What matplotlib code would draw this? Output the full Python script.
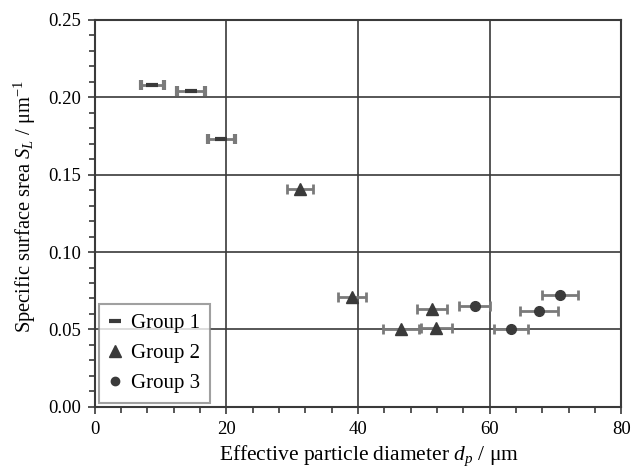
import matplotlib
matplotlib.use("Agg")
import matplotlib.pyplot as plt
from matplotlib.ticker import MultipleLocator, FormatStrFormatter

plt.rcParams['font.family'] = ['Liberation Serif', 'DejaVu Serif']
plt.rcParams['mathtext.fontset'] = 'custom'
plt.rcParams['mathtext.rm'] = 'Liberation Serif'
plt.rcParams['mathtext.it'] = 'Liberation Serif:italic'

# Group 1
g1_x = [8.7, 14.6, 19.2]
g1_y = [0.208, 0.204, 0.173]
g1_err = [1.75, 2.1, 2.05]

# Group 2
g2_x = [31.2, 39.1, 46.5, 51.2, 51.9]
g2_y = [0.141, 0.071, 0.050, 0.063, 0.051]
g2_err = [2.0, 2.1, 2.7, 2.3, 2.4]

# Group 3
g3_x = [57.7, 63.3, 67.5, 70.7]
g3_y = [0.065, 0.050, 0.062, 0.072]
g3_err = [2.4, 2.6, 2.9, 2.8]

dark = '#3a3a3a'
ebar = '#7a7a7a'

fig = plt.figure(figsize=(6.32, 4.72), dpi=100)
ax = fig.add_axes([0.150, 0.138, 0.833, 0.820])

ax.set_axisbelow(True)
ax.grid(True, which='major', color=dark, linewidth=1.2)

err_kw = dict(ecolor=ebar, elinewidth=2, capsize=3.5, capthick=2, linestyle='none')
ax.errorbar(g1_x, g1_y, xerr=g1_err, marker='_', markersize=9, markeredgewidth=3,
            color=dark, label='Group 1', **err_kw)
ax.errorbar(g2_x, g2_y, xerr=g2_err, marker='^', markersize=9,
            color=dark, label='Group 2', **err_kw)
ax.errorbar(g3_x, g3_y, xerr=g3_err, marker='o', markersize=7,
            color=dark, label='Group 3', **err_kw)

ax.set_xlim(0, 80)
ax.set_ylim(0, 0.25)
ax.xaxis.set_major_locator(MultipleLocator(20))
ax.xaxis.set_minor_locator(MultipleLocator(4))
ax.yaxis.set_major_locator(MultipleLocator(0.05))
ax.yaxis.set_minor_locator(MultipleLocator(0.01))
ax.yaxis.set_major_formatter(FormatStrFormatter('%.2f'))
ax.tick_params(which='both', direction='out', colors=dark, labelcolor='black', labelsize=13.5)
ax.tick_params(which='major', length=5, width=1.2, pad=5)
ax.tick_params(which='minor', length=4, width=1.2)
for s in ax.spines.values():
    s.set_color(dark)
    s.set_linewidth(1.5)

ax.set_xlabel(r'Effective particle diameter $d_p$ / μm', fontsize=15.5)
ax.set_ylabel(r'Specific surface srea $S_L$ / μm$^{-1}$', fontsize=14.8)
ax.xaxis.set_label_coords(0.52, -0.095)
ax.yaxis.set_label_coords(-0.108, 0.517)

# legend with only markers, no error bars
handles = [
    plt.Line2D([], [], marker='_', markersize=9, markeredgewidth=3, color=dark, linestyle='none'),
    plt.Line2D([], [], marker='^', markersize=9, color=dark, linestyle='none'),
    plt.Line2D([], [], marker='o', markersize=6, color=dark, linestyle='none'),
]
leg = ax.legend(handles, ['Group 1', 'Group 2', 'Group 3'], loc='lower left',
                fontsize=15, frameon=True, fancybox=False, handlelength=0.6,
                handletextpad=0.5, borderaxespad=0.2, labelspacing=0.5,
                borderpad=0.45)
leg.get_frame().set_edgecolor('#888888')
leg.get_frame().set_linewidth(1.5)

fig.savefig('out.png', dpi=100)
